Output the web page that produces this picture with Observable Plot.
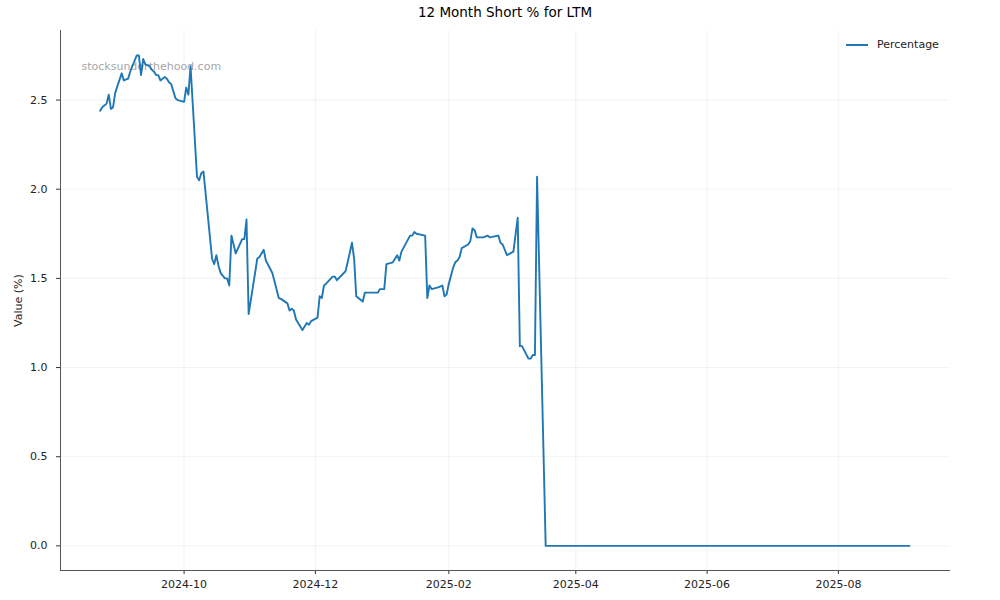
<!DOCTYPE html>
<html>
<head>
<meta charset="utf-8">
<script src="https://cdn.jsdelivr.net/npm/d3@7"></script>
<script src="https://cdn.jsdelivr.net/npm/@observablehq/plot@0.6"></script>
<style>
  body { margin: 0; background: white; font-family: "DejaVu Sans", sans-serif; }
  #wrap { position: relative; width: 1000px; height: 600px; }
  #title { position: absolute; left: 0; top: 4px; width: 1010px; text-align: center; font-size: 13.5px; color: #000; }
  #legend { position: absolute; left: 846px; top: 38px; font-size: 11px; color: #222; display: flex; align-items: center; }
  #legend .sw { width: 22px; height: 2px; background: #1f77b4; margin-right: 9px; }
</style>
</head>
<body>
<div id="wrap">
  <div id="chart"></div>
  <div id="title">12 Month Short % for LTM</div>
  <div id="legend"><div class="sw"></div><span>Percentage</span></div>
</div>
<script>
const dates = [
  "2024-08-23","2024-08-24","2024-08-26","2024-08-27","2024-08-28","2024-08-29","2024-08-30",
  "2024-09-02","2024-09-03","2024-09-05","2024-09-06","2024-09-09","2024-09-10","2024-09-11",
  "2024-09-12","2024-09-13","2024-09-15","2024-09-16","2024-09-17","2024-09-18","2024-09-19",
  "2024-09-20","2024-09-22","2024-09-23","2024-09-24","2024-09-25","2024-09-26","2024-09-27",
  "2024-09-28","2024-10-01","2024-10-02","2024-10-03","2024-10-04","2024-10-07","2024-10-08",
  "2024-10-09","2024-10-10","2024-10-14","2024-10-15","2024-10-16","2024-10-17","2024-10-18",
  "2024-10-20","2024-10-21","2024-10-22","2024-10-23","2024-10-25","2024-10-28","2024-10-29",
  "2024-10-30","2024-10-31","2024-11-04","2024-11-05","2024-11-07","2024-11-08","2024-11-11",
  "2024-11-14","2024-11-15","2024-11-18","2024-11-19","2024-11-20","2024-11-21","2024-11-22",
  "2024-11-25","2024-11-27","2024-11-28","2024-11-29","2024-12-02","2024-12-03","2024-12-04",
  "2024-12-05","2024-12-06","2024-12-09","2024-12-10","2024-12-11","2024-12-15","2024-12-16",
  "2024-12-18","2024-12-19","2024-12-20","2024-12-23","2024-12-24","2024-12-30","2024-12-31",
  "2025-01-02","2025-01-03","2025-01-06","2025-01-08","2025-01-09","2025-01-10","2025-01-14",
  "2025-01-15","2025-01-16","2025-01-17","2025-01-21","2025-01-22","2025-01-23","2025-01-24",
  "2025-01-27","2025-01-29","2025-01-30","2025-01-31","2025-02-01","2025-02-03","2025-02-04",
  "2025-02-05","2025-02-06","2025-02-07","2025-02-10","2025-02-11","2025-02-12","2025-02-13",
  "2025-02-14","2025-02-17","2025-02-19","2025-02-20","2025-02-24","2025-02-25","2025-02-26",
  "2025-02-28","2025-03-03","2025-03-05","2025-03-06","2025-03-07","2025-03-10","2025-03-11",
  "2025-03-12","2025-03-13","2025-03-14","2025-03-18","2025-04-01","2025-05-01","2025-06-02",
  "2025-07-01","2025-08-01","2025-09-03"
];
const values = [
  2.44,2.46,2.48,2.53,2.45,2.46,2.54,
  2.65,2.61,2.62,2.66,2.75,2.75,2.64,
  2.73,2.70,2.69,2.67,2.66,2.64,2.64,
  2.61,2.63,2.62,2.60,2.59,2.55,2.51,
  2.50,2.49,2.57,2.53,2.69,2.07,2.05,
  2.09,2.10,1.61,1.58,1.63,1.57,1.53,
  1.50,1.50,1.46,1.74,1.64,1.72,1.72,
  1.83,1.30,1.61,1.62,1.66,1.60,1.53,
  1.39,1.385,1.36,1.32,1.33,1.32,1.27,
  1.21,1.25,1.24,1.26,1.28,1.40,1.39,
  1.46,1.47,1.51,1.51,1.49,1.54,1.59,
  1.70,1.61,1.40,1.37,1.42,1.42,1.44,
  1.44,1.58,1.59,1.63,1.60,1.65,1.74,
  1.74,1.76,1.75,1.74,1.39,1.46,1.44,
  1.45,1.46,1.40,1.41,1.47,1.56,1.59,
  1.60,1.62,1.67,1.69,1.71,1.78,1.77,
  1.73,1.73,1.74,1.73,1.74,1.70,1.69,
  1.63,1.65,1.84,1.12,1.12,1.05,1.05,
  1.07,1.07,2.07,0,0,0,0,
  0,0,0
];
const xTicks = ["2024-10-01","2024-12-01","2025-02-01","2025-04-01","2025-06-01","2025-08-01"];
const yTicks = [0, 0.5, 1.0, 1.5, 2.0, 2.5];
const seriesName = "Percentage";
const watermark = "stocksunderthehood.com";

const data = dates.map((d, i) => ({date: new Date(d + "T00:00:00Z"), value: values[i]}));
const xTickDates = xTicks.map(d => new Date(d + "T00:00:00Z"));
const xDomain = [new Date("2024-08-04T14:00:00Z"), new Date("2025-09-22T02:00:00Z")];
const yDomain = [-0.138, 2.89];

const chart = Plot.plot({
  width: 1000,
  height: 600,
  marginTop: 30,
  marginBottom: 30,
  marginLeft: 60,
  marginRight: 50,
  style: {fontFamily: "DejaVu Sans", fontSize: "11px", background: "white", color: "#222"},
  x: {type: "utc", domain: xDomain},
  y: {domain: yDomain},
  marks: [
    Plot.gridX(xTickDates, {stroke: "#b0b0b0", strokeOpacity: 0.2, strokeWidth: 0.8}),
    Plot.gridY(yTicks, {stroke: "#b0b0b0", strokeOpacity: 0.2, strokeWidth: 0.8}),
    Plot.axisX(xTickDates, {tickFormat: d3.utcFormat("%Y-%m"), tickSize: 4, tickPadding: 6, label: null, stroke: "#333"}),
    Plot.axisY(yTicks, {tickFormat: d3.format(".1f"), tickSize: 4, tickPadding: 9, label: "Value (%)", labelAnchor: "center", labelOffset: 46, labelArrow: "none", stroke: "#333"}),
    Plot.ruleX([xDomain[0]], {stroke: "#555", strokeWidth: 1}),
    Plot.ruleY([yDomain[0]], {stroke: "#555", strokeWidth: 1}),
    Plot.text([watermark], {frameAnchor: "top-left", dx: 21, dy: 36, lineAnchor: "middle", fill: "#999", fillOpacity: 0.9, fontSize: 11}),
    Plot.line(data, {x: "date", y: "value", stroke: "#1f77b4", strokeWidth: 1.9})
  ]
});
document.getElementById("chart").appendChild(chart);
</script>
</body>
</html>
